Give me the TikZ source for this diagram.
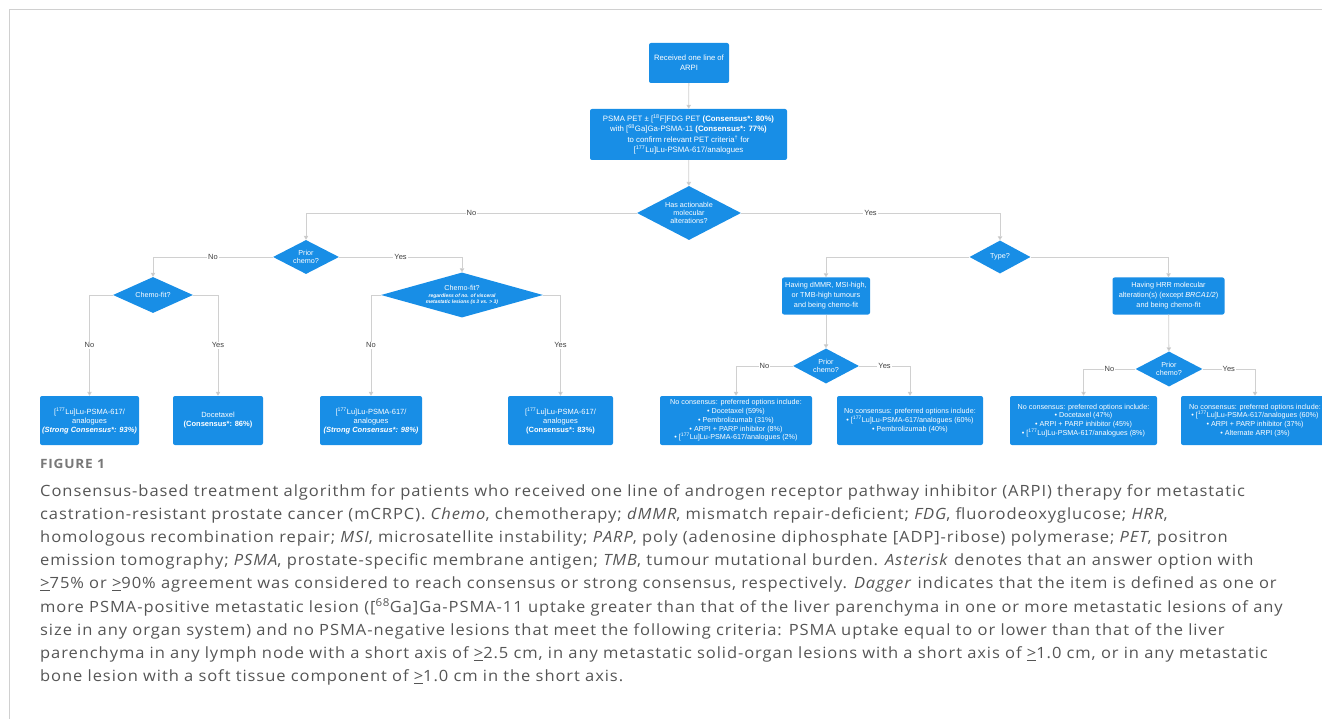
\documentclass[tikz,border=0pt]{standalone}
\usepackage{fontspec}
\setmainfont{Liberation Sans}
\newfontfamily\capfont[LetterSpace=6,FakeStretch=1.065]{Open Sans}
\usetikzlibrary{shapes.geometric,arrows.meta}
\definecolor{boxblue}{RGB}{24,142,230}
\definecolor{linegray}{RGB}{208,208,208}
\definecolor{tipgray}{RGB}{185,185,185}
\definecolor{capgray}{RGB}{85,85,85}
\definecolor{figgray}{RGB}{120,120,120}
\newcommand{\Lu}{[\textsuperscript{177}Lu]Lu-PSMA-617}
\begin{document}
\begin{tikzpicture}[x=1pt,y=-1pt,
  bx/.style={rectangle, rounded corners=2pt, fill=boxblue, text=white, align=center, inner sep=0pt, font=\fontsize{7.5}{9}\selectfont},
  sbx/.style={bx, font=\fontsize{7.2}{8.8}\selectfont},
  dm/.style={diamond, fill=boxblue, inner sep=0pt},
  dtext/.style={text=white, align=center, inner sep=0pt, font=\fontsize{7.2}{8.4}\selectfont},
  arr/.style={draw=linegray, line width=0.8pt, -{Triangle[width=4.5pt,length=4pt,fill=tipgray]}},
  lbl/.style={fill=white, text=black!75, inner sep=1pt, font=\fontsize{7.5}{8}\selectfont},
  capline/.style={anchor=base west, inner sep=0pt, text=capgray, font=\capfont\fontsize{15.5}{18}\selectfont},
]
\useasboundingbox (0,0) rectangle (1322,719);
\draw[linegray, line width=1pt] (9,719) -- (9,10) -- (1322,10);

% top part
\node[bx, minimum width=80pt, minimum height=40pt, font=\fontsize{7.7}{10}\selectfont] (top) at (689,63) {Received one line of\\ARPI};
\node[bx, minimum width=197pt, minimum height=51pt, font=\fontsize{7.8}{10.5}\selectfont] (psma) at (688.5,134.5)
  {PSMA PET ± [\textsuperscript{18}F]FDG PET \textbf{(Consensus*: 80\%)}\\with [\textsuperscript{68}Ga]Ga-PSMA-11 \textbf{(Consensus*: 77\%)}\\to confirm relevant PET criteria\textsuperscript{†} for\\\Lu/analogues};
\node[dm, minimum width=104pt, minimum height=54pt, label={[dtext]center:{Has actionable\\molecular\\alterations?}}] (act) at (689,213) {};

% left branch
\node[dm, minimum width=66pt, minimum height=34pt, label={[dtext]center:{Prior\\chemo?}}] (pcL) at (306,257) {};
\node[dm, minimum width=80pt, minimum height=36pt, label={[dtext]center:{Chemo-fit?}}] (cfL) at (153,295) {};
\node[dm, minimum width=162pt, minimum height=45pt, label={[dtext]center:{Chemo-fit?\\[-1.5pt]{\fontsize{5}{6}\selectfont\bfseries\itshape regardless of no. of visceral}\\[-2.5pt]{\fontsize{5}{6}\selectfont\bfseries\itshape metastatic lesions (≤ 3 vs. > 3)}}}] (cfR) at (462,295) {};

\node[bx, minimum width=99pt, minimum height=49pt] (b1) at (89.5,420.5) {\Lu/\\analogues\\\textbf{\textit{(Strong Consensus*: 93\%)}}};
\node[bx, minimum width=90pt, minimum height=49pt] (b2) at (218,420.5) {Docetaxel\\\textbf{(Consensus*: 86\%)}};
\node[bx, minimum width=102pt, minimum height=49pt] (b3) at (371,420.5) {\Lu/\\analogues\\\textbf{\textit{(Strong Consensus*: 98\%)}}};
\node[bx, minimum width=105pt, minimum height=49pt] (b4) at (560.5,420.5) {\Lu/\\analogues\\\textbf{(Consensus*: 83\%)}};

% right branch
\node[dm, minimum width=61pt, minimum height=33pt, label={[dtext]center:{Type?}}] (type) at (1000,257) {};
\node[bx, minimum width=88pt, minimum height=37pt, font=\fontsize{7.3}{10}\selectfont] (dmmr) at (826,296) {Having dMMR, MSI-high,\\or TMB-high tumours\\and being chemo-fit};
\node[bx, minimum width=112pt, minimum height=37pt, font=\fontsize{7.3}{10}\selectfont] (hrr) at (1168.5,296) {Having HRR molecular\\alteration(s) (except \textit{BRCA1/2})\\and being chemo-fit};
\node[dm, minimum width=66pt, minimum height=35pt, label={[dtext]center:{Prior\\chemo?}}] (pcM) at (826,366) {};
\node[dm, minimum width=67pt, minimum height=35pt, label={[dtext]center:{Prior\\chemo?}}] (pcR) at (1169,369) {};

\node[sbx, minimum width=152pt, minimum height=49pt] (b5) at (736,420.5) {No consensus: preferred options include:\\• Docetaxel (59\%)\\• Pembrolizumab (31\%)\\• ARPI + PARP inhibitor (8\%)\\• \Lu/analogues (2\%)};
\node[sbx, minimum width=146pt, minimum height=49pt] (b6) at (910,420.5) {No consensus: preferred options include:\\• \Lu/analogues (60\%)\\• Pembrolizumab (40\%)};
\node[sbx, minimum width=147pt, minimum height=49pt] (b7) at (1083.5,420.5) {No consensus: preferred options include:\\• Docetaxel (47\%)\\• ARPI + PARP inhibitor (45\%)\\• \Lu/analogues (8\%)};
\node[sbx, minimum width=148pt, minimum height=49pt] (b8) at (1255,420.5) {No consensus: preferred options include:\\• \Lu/analogues (60\%)\\• ARPI + PARP inhibitor (37\%)\\• Alternate ARPI (3\%)};

% connectors
\draw[arr] (top) -- (psma);
\draw[arr] (psma) -- (act);
\draw[arr] (act.west) -| node[lbl,pos=0.25]{No} (pcL.north);
\draw[arr] (act.east) -| node[lbl,pos=0.25]{Yes} (type.north);
\draw[arr] (pcL.west) -| node[lbl,pos=0.25]{No} (cfL.north);
\draw[arr] (pcL.east) -| node[lbl,pos=0.25]{Yes} (cfR.north);
\draw[arr] (cfL.west) -| node[lbl,pos=0.75]{No} (b1.north);
\draw[arr] (cfL.east) -| node[lbl,pos=0.75]{Yes} (b2.north);
\draw[arr] (cfR.west) -| node[lbl,pos=0.75]{No} (b3.north);
\draw[arr] (cfR.east) -| node[lbl,pos=0.75]{Yes} (b4.north);
\draw[arr] (type.west) -| (dmmr.north);
\draw[arr] (type.east) -| (hrr.north);
\draw[arr] (dmmr) -- (pcM);
\draw[arr] (hrr) -- (pcR);
\draw[arr] (pcM.west) -| node[lbl,pos=0.25]{No} (b5.north);
\draw[arr] (pcM.east) -| node[lbl,pos=0.25]{Yes} (b6.north);
\draw[arr] (pcR.west) -| node[lbl,pos=0.25]{No} (b7.north);
\draw[arr] (pcR.east) -| node[lbl,pos=0.25]{Yes} (b8.north);

% caption
\node[anchor=base west, inner sep=0pt, text=figgray, font=\capfont\bfseries\fontsize{12.8}{14}\selectfont] (fig) at (40,468) {FIGURE 1};
\node[capline] (c1) at (40,496) {Consensus-based treatment algorithm for patients who received one line of androgen receptor pathway inhibitor (ARPI) therapy for metastatic};
\node[capline] (c2) at (40,519.2) {castration-resistant prostate cancer (mCRPC). \textit{Chemo}, chemotherapy; \textit{dMMR}, mismatch repair-deficient; \textit{FDG}, fluorodeoxyglucose; \textit{HRR},};
\node[capline] (c3) at (40,542.4) {homologous recombination repair; \textit{MSI}, microsatellite instability; \textit{PARP}, poly (adenosine diphosphate [ADP]-ribose) polymerase; \textit{PET}, positron};
\node[capline] (c4) at (40,565.6) {emission tomography; \textit{PSMA}, prostate-specific membrane antigen; \textit{TMB}, tumour mutational burden. \textit{Asterisk} denotes that an answer option with};
\node[capline] (c5) at (40,588.8) {\underline{>}75\% or \underline{>}90\% agreement was considered to reach consensus or strong consensus, respectively. \textit{Dagger} indicates that the item is defined as one or};
\node[capline] (c6) at (40,612) {more PSMA-positive metastatic lesion ([\textsuperscript{68}Ga]Ga-PSMA-11 uptake greater than that of the liver parenchyma in one or more metastatic lesions of any};
\node[capline] (c7) at (40,635.2) {size in any organ system) and no PSMA-negative lesions that meet the following criteria: PSMA uptake equal to or lower than that of the liver};
\node[capline] (c8) at (40,658.4) {parenchyma in any lymph node with a short axis of \underline{>}2.5 cm, in any metastatic solid-organ lesions with a short axis of \underline{>}1.0 cm, or in any metastatic};
\node[capline] (c9) at (40,681.6) {bone lesion with a soft tissue component of \underline{>}1.0 cm in the short axis.};
\end{tikzpicture}
\end{document}
